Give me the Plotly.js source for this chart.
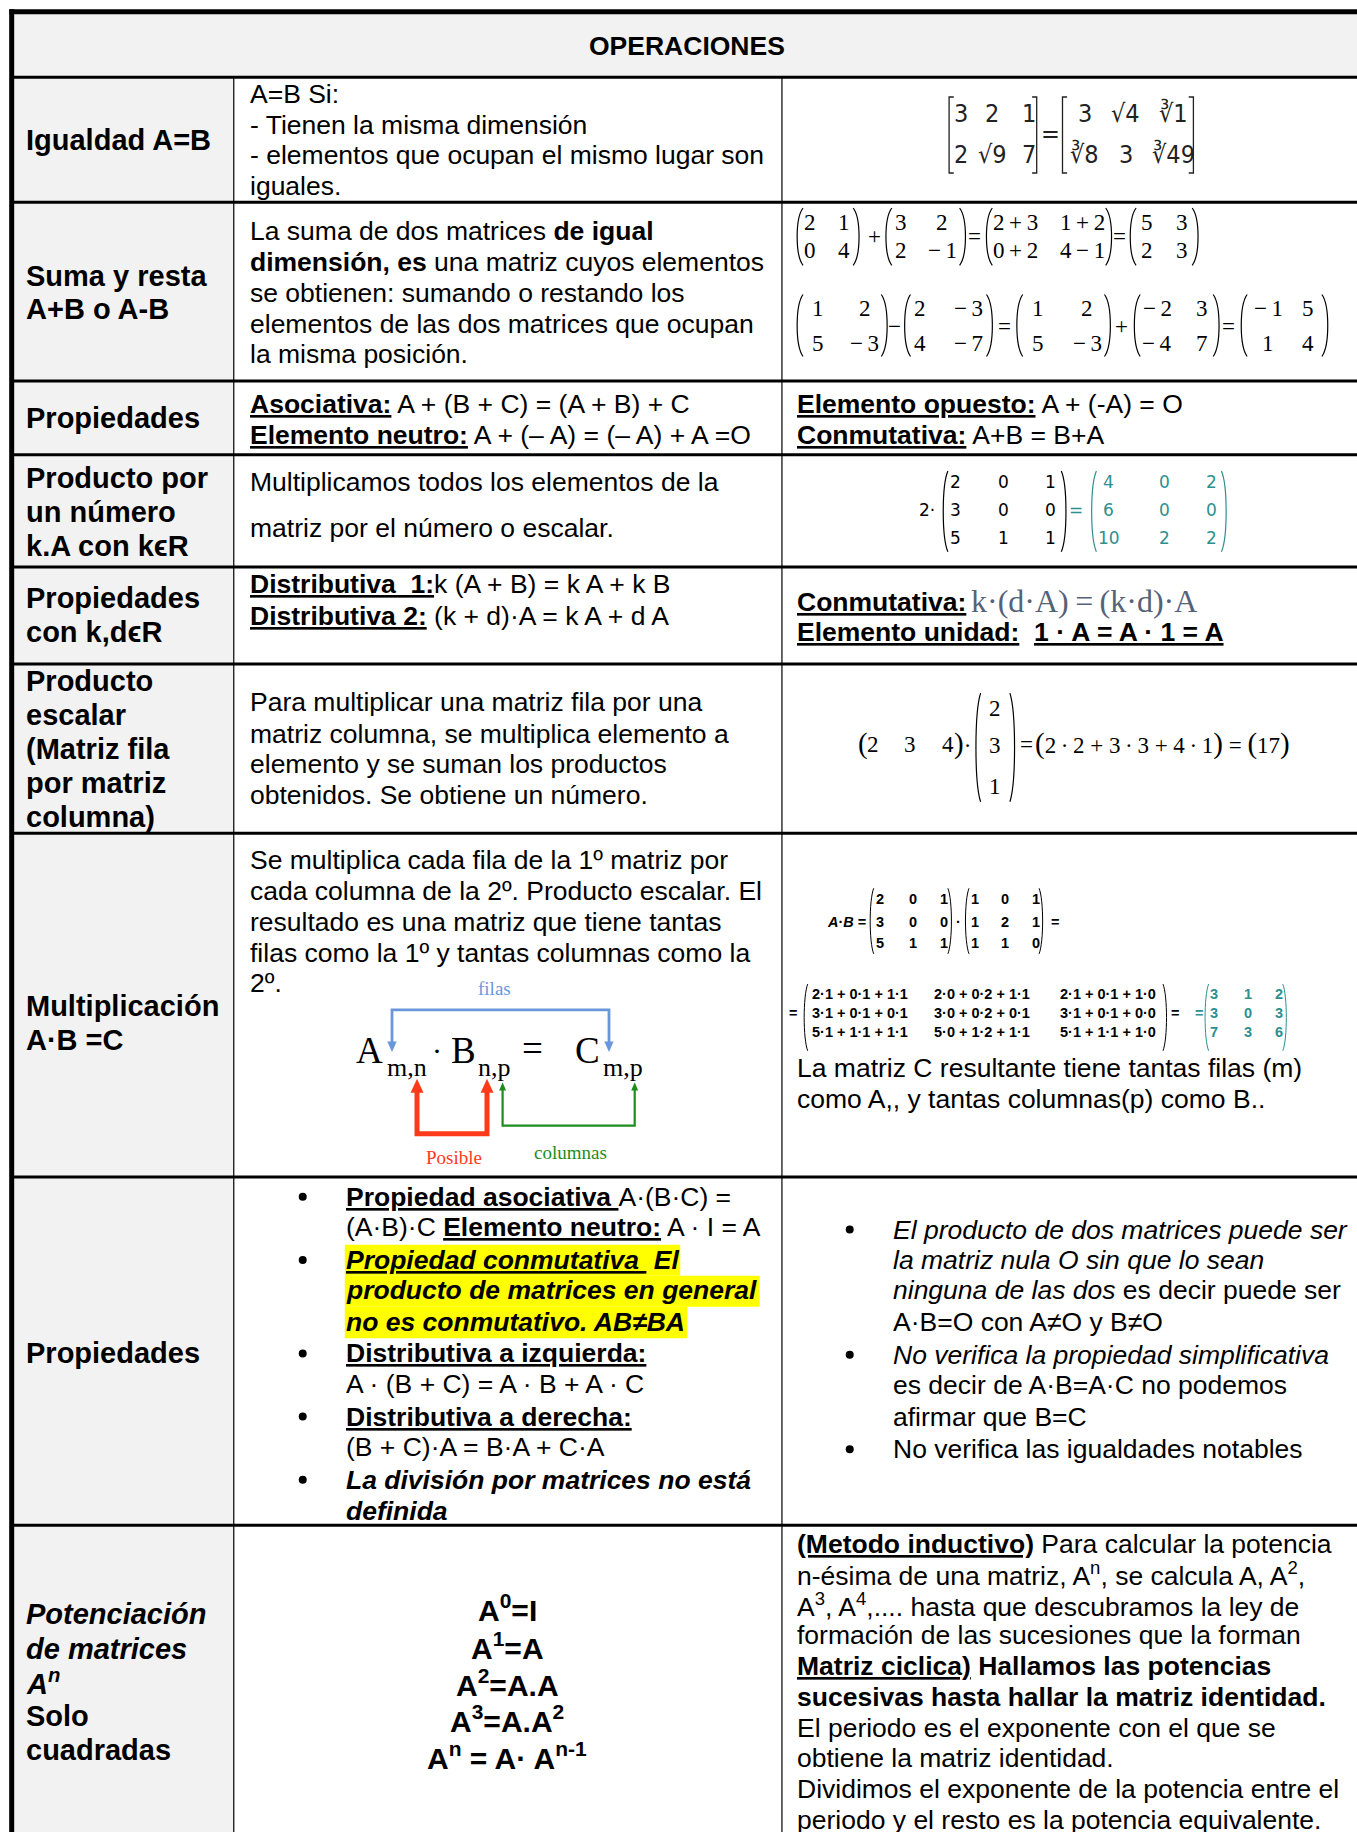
<!DOCTYPE html>
<html><head><meta charset="utf-8">
<script src="https://cdn.plot.ly/plotly-3.0.1.min.js"></script>
<style>html,body{margin:0;padding:0;background:#fff;}#chart{width:1357px;height:1832px;}</style>
</head><body><div id="chart"></div>
<script>
// ---------------- DATA ----------------
const header = "OPERACIONES";
const rowLabels = [
  ["Igualdad A=B"],
  ["Suma y resta", "A+B o A-B"],
  ["Propiedades"],
  ["Producto por", "un número", "k.A con kϵR"],
  ["Propiedades", "con k,dϵR"],
  ["Producto", "escalar", "(Matriz fila", "por matriz", "columna)"],
  ["Multiplicación", "A·B =C"],
  ["Propiedades"],
  ["<i>Potenciación</i>", "<i>de matrices</i>", "<i>A<sup>n</sup></i>", "Solo", "cuadradas"]
];
const igualdadText = ["A=B Si:", "- Tienen la misma dimensión", "- elementos que ocupan el mismo lugar son", "iguales."];
const igualA = [["3", "2", "1"], ["2", "√9", "7"]];
const igualB = [["3", "√4", "∛1"], ["∛8", "3", "∛49"]];

const sumaText = ["La suma de dos matrices <b>de igual</b>", "<b>dimensión, es</b> una matriz cuyos elementos",
  "se obtienen: sumando o restando los", "elementos de las dos matrices que ocupan", "la misma posición."];
const sumA = [[2, 1], [0, 4]];
const sumB = [[3, 2], [2, -1]];
const sumR = [[5, 3], [2, 3]];
const difA = [[1, 2], [5, -3]];
const difB = [[2, -3], [4, -7]];
const difNegB = [[-2, 3], [-4, 7]];
const difR = [[-1, 5], [1, 4]];

const propSumaL = ["<b><u>Asociativa:</u></b> A + (B + C) = (A + B) + C", "<b><u>Elemento neutro:</u></b> A + (– A) = (– A) + A =O"];
const propSumaR = ["<b><u>Elemento opuesto:</u></b> A + (-A) = O", "<b><u>Conmutativa:</u></b> A+B = B+A"];

const prodNumText = ["Multiplicamos todos los elementos de la", "matriz por el número o escalar."];
const escalarK = 2;
const escM = [[2, 0, 1], [3, 0, 0], [5, 1, 1]];
const escKM = [[4, 0, 2], [6, 0, 0], [10, 2, 2]];

const propKL = ["<b><u>Distributiva\u00a0 1:</u></b>k (A + B) = k A + k B", "<b><u>Distributiva 2:</u></b> (k + d)·A = k A + d A"];
const propKR = ["<b><u>Conmutativa:</u></b>", "<b><u>Elemento unidad:</u></b>\u00a0 <b><u>1 · A = A · 1 = A</u></b>"];
const formulaK = "k·(d·A)\u2009=\u2009(k·d)·A";

const escalarText = ["Para multiplicar una matriz fila por una", "matriz columna, se multiplica elemento a",
  "elemento y se suman los productos", "obtenidos. Se obtiene un número."];
const rowVec = [2, 3, 4];
const colVec = [2, 3, 1];
const dotResult = 17;

const multText = ["Se multiplica cada fila de la 1º matriz por", "cada columna de la 2º. Producto escalar. El",
  "resultado es una matriz que tiene tantas", "filas como la 1º y tantas columnas como la", "2º."];
const prodA = [[2, 0, 1], [3, 0, 0], [5, 1, 1]];
const prodB = [[1, 0, 1], [1, 2, 1], [1, 1, 0]];
const prodC = [[3, 1, 2], [3, 0, 3], [7, 3, 6]];
const multNote = ["La matriz C resultante tiene tantas filas (m)", "como A,, y tantas columnas(p) como B.."];
const diagramWords = ["filas", "Posible", "columnas"];

const propMultL = [
  "<b><u>Propiedad asociativa </u></b>A·(B·C) =",
  "(A·B)·C <b><u>Elemento neutro:</u></b> A · I = A",
  "<b><i><u>Propiedad conmutativa </u> El</i></b>",
  "<b><i>producto de matrices en general</i></b>",
  "<b><i>no es conmutativo. AB≠BA</i></b>",
  "<b><u>Distributiva a izquierda:</u></b>",
  "A · (B + C) = A · B + A · C",
  "<b><u>Distributiva a derecha:</u></b>",
  "(B + C)·A = B·A + C·A",
  "<b><i>La división por matrices no está</i></b>",
  "<b><i>definida</i></b>"
];
const propMultR = [
  "<i>El producto de dos matrices puede ser</i>",
  "<i>la matriz nula O sin que lo sean</i>",
  "<i>ninguna de las dos</i> es decir puede ser",
  "A·B=O con A≠O y B≠O",
  "<i>No verifica la propiedad simplificativa</i>",
  "es decir de A·B=A·C no podemos",
  "afirmar que B=C",
  "No verifica las igualdades notables"
];
const potencias = ["A<sup>0</sup>=I", "A<sup>1</sup>=A", "A<sup>2</sup>=A.A", "A<sup>3</sup>=A.A<sup>2</sup>", "A<sup>n</sup> = A· A<sup>n-1</sup>"];
const potText = [
  "<b><u>(Metodo inductivo)</u></b> Para calcular la potencia",
  "n-ésima de una matriz, A<sup>n</sup>, se calcula A, A<sup>2</sup>,",
  "A<sup>3</sup>, A<sup>4</sup>,.... hasta que descubramos la ley de",
  "formación de las sucesiones que la forman",
  "<b><u>Matriz ciclica)</u> Hallamos las potencias</b>",
  "<b>sucesivas hasta hallar la matriz identidad.</b>",
  "El periodo es el exponente con el que se",
  "obtiene la matriz identidad.",
  "Dividimos el exponente de la potencia entre el",
  "periodo y el resto es la potencia equivalente."
];

// ---------------- LAYOUT HELPERS ----------------
const K = 1357 / 1161;
const ann = [], shp = [];
const SANS = 'Liberation Sans, Arial, sans-serif';
const SERIF = 'Liberation Serif, Times New Roman, serif';
const NARROW = 'Liberation Sans Narrow, DejaVu Sans Condensed, Liberation Sans, sans-serif';
const DJ = 'DejaVu Sans, sans-serif';
const BODY = 26.5, LAB = 29;
const TEAL = '#2e8f8f';

function fmt(v, sp) { return typeof v === 'number' ? (v < 0 ? '−' + (sp ? '\u2009' : '') + (-v) : String(v)) : v; }
function T(x, y, text, o) {
  o = o || {};
  ann.push({xref: 'x', yref: 'y', x: x * K, y: y * K, text: text, showarrow: false,
    xanchor: o.xa || 'left', yanchor: 'middle', align: o.xa === 'center' ? 'center' : 'left', borderpad: 0,
    font: {family: o.f || SANS, size: o.s || BODY, color: o.c || '#000'}});
}
function lines(x, ys, arr, o) { arr.forEach((t, i) => T(x, ys[i], t, o)); }
function L(x0, y0, x1, y1, w, c) {
  shp.push({type: 'line', xref: 'x', yref: 'y', x0: x0 * K, y0: y0 * K, x1: x1 * K, y1: y1 * K,
    line: {color: c || '#000', width: w}, layer: 'above'});
}
function R(x0, y0, x1, y1, fill) {
  shp.push({type: 'rect', xref: 'x', yref: 'y', x0: x0 * K, y0: y0 * K, x1: x1 * K, y1: y1 * K,
    fillcolor: fill, line: {width: 0}, layer: 'below'});
}
function P(pts, c, w, fill) {
  const d = pts.map((p, i) => (i ? 'L' : 'M') + (p[0] * K).toFixed(1) + ',' + (p[1] * K).toFixed(1)).join(' ') + (fill ? ' Z' : '');
  shp.push({type: 'path', xref: 'x', yref: 'y', path: d, line: {color: c, width: fill ? 0 : w},
    fillcolor: fill ? c : 'rgba(0,0,0,0)', layer: 'above'});
}
function bracket(x, yt, yb, d, side, kind, c, w) {
  const f = v => (v * K).toFixed(1);
  let p;
  if (kind === 'sq') {
    p = `M ${f(x + side * d)},${f(yt)} L ${f(x)},${f(yt)} L ${f(x)},${f(yb)} L ${f(x + side * d)},${f(yb)}`;
  } else {
    const h = yb - yt;
    p = `M ${f(x + side * d)},${f(yt)} C ${f(x - side * d / 3)},${f(yt + h * 0.18)} ${f(x - side * d / 3)},${f(yb - h * 0.18)} ${f(x + side * d)},${f(yb)}`;
  }
  shp.push({type: 'path', xref: 'x', yref: 'y', path: p, line: {color: c || '#000', width: w || 1.2},
    fillcolor: 'rgba(0,0,0,0)', layer: 'above'});
}
function mat(vals, o) {
  vals.forEach((row, i) => row.forEach((v, j) => T(o.cx[j], o.ry[i], fmt(v, o.sp), {xa: o.xa || 'center', f: o.f, s: o.s, c: o.c})));
  bracket(o.L, o.top, o.bot, o.d || 4, 1, o.kind, o.c, o.w);
  bracket(o.R, o.top, o.bot, o.d || 4, -1, o.kind, o.c, o.w);
}
const ext = (a, b) => Object.assign({}, a, b);

// ---------------- GRID ----------------
const RIGHT = 1175, BOTTOM = 1575;
R(10, 10, RIGHT, 66, '#f2f2f2');
R(10, 66, 200, BOTTOM, '#f2f2f2');
// yellow highlight
R(295, 1065, 582, 1091.5, '#ffff00');
R(295, 1091.5, 650, 1118, '#ffff00');
R(295, 1118, 588, 1145, '#ffff00');
[66, 173, 326, 389, 485, 568, 713, 1007, 1305].forEach(y => L(10, y, RIGHT, y, 3));
L(200, 66, 200, BOTTOM, 1.2);
L(669, 66, 669, BOTTOM, 1.2);
L(8, 10, RIGHT, 10, 5);
L(10, 8, 10, BOTTOM, 5);

// ---------------- HEADER & LABELS ----------------
T(588, 39, '<b>' + header + '</b>', {xa: 'center'});
const labelY = [[120], [236, 264], [358], [409, 438, 467], [512, 541], [583, 612, 641, 670, 699], [861, 890], [1158], [1381, 1411, 1439, 1468, 1497]];
rowLabels.forEach((ls, r) => ls.forEach((t, i) => T(21, labelY[r][i], '<b>' + t + '</b>', {s: LAB})));

// ---------------- ROW 1 ----------------
lines(213, [80, 107, 133, 159], igualdadText);
mat(igualA, {cx: [822, 849, 880], ry: [97, 132], L: 812, R: 887, top: 83, bot: 148, d: 4, kind: 'sq', f: NARROW, s: 25, c: '#222', w: 1.3});
T(899, 114, '=', {xa: 'center', f: NARROW, s: 25, c: '#222'});
mat(igualB, {cx: [928, 963, 1004], ry: [97, 132], L: 909, R: 1021, top: 83, bot: 148, d: 4, kind: 'sq', f: NARROW, s: 25, c: '#222', w: 1.3});

// ---------------- ROW 2 ----------------
lines(213, [198, 224, 251, 277, 303], sumaText);
const sumS = sumA.map((r, i) => r.map((a, j) => a + (sumB[i][j] < 0 ? '\u2009−\u2009' + (-sumB[i][j]) : '\u2009+\u2009' + sumB[i][j])));
const SZ2 = 23;
const e1 = {ry: [190, 214], top: 178, bot: 227, f: SERIF, s: SZ2, d: 5, sp: true};
mat(sumA, ext(e1, {L: 682, R: 735, cx: [693, 722]}));
T(748, 202, '+', {xa: 'center', f: SERIF, s: SZ2});
mat(sumB, ext(e1, {L: 758, R: 826, cx: [771, 806]}));
T(833.5, 202, '=', {xa: 'center', f: SERIF, s: SZ2});
mat(sumS, ext(e1, {L: 844, R: 951, cx: [869, 926]}));
T(958, 202, '=', {xa: 'center', f: SERIF, s: SZ2});
mat(sumR, ext(e1, {L: 967, R: 1025, cx: [981, 1011]}));

const e2 = {ry: [264, 293.5], top: 252, bot: 305, f: SERIF, s: SZ2, d: 5, sp: true};
mat(difA, ext(e2, {L: 682, R: 759, cx: [700, 740]}));
T(765, 279, '−', {xa: 'center', f: SERIF, s: SZ2});
mat(difB, ext(e2, {L: 774, R: 849, cx: [787, 829]}));
T(859, 279, '=', {xa: 'center', f: SERIF, s: SZ2});
mat(difA, ext(e2, {L: 870, R: 950, cx: [888, 930]}));
T(959.5, 279, '+', {xa: 'center', f: SERIF, s: SZ2});
mat(difNegB, ext(e2, {L: 970.5, R: 1043, cx: [990, 1028]}));
T(1051, 279, '=', {xa: 'center', f: SERIF, s: SZ2});
mat(difR, ext(e2, {L: 1062, R: 1136, cx: [1085, 1119]}));

// ---------------- ROW 3 ----------------
lines(213, [346, 372], propSumaL);
lines(681, [346, 372], propSumaR);

// ---------------- ROW 4 ----------------
lines(213, [412, 452], prodNumText);
T(801, 436.5, escalarK + '·', {xa: 'right', f: DJ, s: 17});
const e4 = {ry: [412, 436.5, 460.5], top: 403, bot: 472, f: DJ, s: 17, d: 4};
mat(escM, ext(e4, {L: 807, R: 912, cx: [817.5, 858.5, 898.5]}));
T(921, 436.5, '=', {xa: 'center', f: DJ, s: 17, c: TEAL});
mat(escKM, ext(e4, {L: 934, R: 1049, cx: [948.5, 996.5, 1036.5], c: TEAL}));

// ---------------- ROW 5 ----------------
lines(213, [500, 527], propKL);
lines(681, [515, 541], propKR);
T(830, 514, formulaK, {f: SERIF, s: 32, c: '#56627a'});

// ---------------- ROW 6 ----------------
lines(213, [601, 628, 654, 680], escalarText);
const big = t => '<span style="font-size:29px">' + t + '</span>';
T(733, 636, big('('), {f: SERIF, s: 23});
rowVec.forEach((v, i) => T([747.2, 778.6, 811.4][i], 637, String(v), {xa: 'center', f: SERIF, s: 23}));
T(815.5, 636, big(')') + '·', {f: SERIF, s: 23});
mat(colVec.map(v => [v]), {ry: [606, 637.5, 673], cx: [851.3], L: 835, R: 868, top: 593, bot: 686, f: SERIF, s: 23, d: 4});
T(878.4, 637, '=', {xa: 'center', f: SERIF, s: 23});
const dotExpr = rowVec.map((v, i) => v + '\u2009·\u2009' + colVec[i]).join(' + ');
T(885, 636.5, big('(') + dotExpr + big(')') + ' = ' + big('(') + dotResult + big(')'), {f: SERIF, s: 23});

// ---------------- ROW 7 ----------------
lines(213, [736, 762, 789, 815, 841], multText);
// diagram
const BLUE = '#6a97db', RED = '#ff3a1a', GREEN = '#1e8c1e';
P([[335.4, 892], [335.4, 864], [521, 864], [521, 892]], BLUE, 2.8);
P([[331.4, 891], [339.4, 891], [335.4, 900]], BLUE, 0, true);
P([[517, 891], [525, 891], [521, 900]], BLUE, 0, true);
P([[356.8, 933], [356.8, 970], [416.7, 970], [416.7, 933]], RED, 5);
P([[351.3, 935], [362.3, 935], [356.8, 923]], RED, 0, true);
P([[411.2, 935], [422.2, 935], [416.7, 923]], RED, 0, true);
P([[430, 932], [430, 963], [543, 963], [543, 932]], GREEN, 2.2);
P([[427, 933], [433, 933], [430, 926]], GREEN, 0, true);
P([[540, 933], [546, 933], [543, 926]], GREEN, 0, true);
T(423, 846, diagramWords[0], {xa: 'center', f: SERIF, s: 19, c: BLUE});
T(388, 990, diagramWords[1], {xa: 'center', f: SERIF, s: 19, c: RED});
T(488, 986, diagramWords[2], {xa: 'center', f: SERIF, s: 19, c: GREEN});
T(304, 899, 'A', {f: SERIF, s: 37});
T(330, 913, 'm,n', {f: SERIF, s: 26});
T(374, 899, '·', {xa: 'center', f: SERIF, s: 30});
T(385, 899, 'B', {f: SERIF, s: 37});
T(408, 913, 'n,p', {f: SERIF, s: 26});
T(456, 897, '=', {xa: 'center', f: SERIF, s: 37});
T(491, 899, 'C', {f: SERIF, s: 37});
T(515, 913, 'm,p', {f: SERIF, s: 26});
// product matrices
const PS = 14.5;
const e7 = {ry: [769, 789, 807], top: 760, bot: 816, f: SANS, s: PS, d: 3, w: 1};
T(707, 789, '<b><i>A</i>·<i>B</i> =</b>', {f: SANS, s: PS});
mat(prodA.map(r => r.map(v => '<b>' + v + '</b>')), ext(e7, {L: 744.5, R: 814, cx: [753, 781, 808]}));
T(820, 789, '<b>·</b>', {xa: 'center', f: SANS, s: PS});
mat(prodB.map(r => r.map(v => '<b>' + v + '</b>')), ext(e7, {L: 826, R: 892, cx: [834.5, 860, 886]}));
T(903, 789, '<b>=</b>', {xa: 'center', f: SANS, s: PS});
const expanded = prodA.map((r, i) => prodB[0].map((_, j) => '<b>' + r.map((a, k) => a + '·' + prodB[k][j]).join(' + ') + '</b>'));
const e7b = {ry: [850, 866.5, 883], top: 842, bot: 899, f: SANS, s: PS, d: 3, w: 1};
T(678.5, 866.5, '<b>=</b>', {xa: 'center', f: SANS, s: PS});
mat(expanded, ext(e7b, {L: 688, R: 998, cx: [693.5, 798, 905.7], xa: 'left'}));
T(1005.3, 866.5, '<b>=</b>', {xa: 'center', f: SANS, s: PS});
T(1025.5, 866.5, '<b>=</b>', {xa: 'center', f: SANS, s: PS, c: TEAL});
mat(prodC.map(r => r.map(v => '<b>' + v + '</b>')), ext(e7b, {L: 1031, R: 1100.5, cx: [1039, 1067.5, 1094], c: TEAL}));
lines(681, [914, 940], multNote);

// ---------------- ROW 8 ----------------
lines(295, [1024, 1050, 1078, 1104, 1131, 1158, 1184, 1212, 1238, 1266, 1293], propMultL);
lines(763, [1052, 1078, 1104, 1131, 1159, 1185, 1212, 1240], propMultR);
const bulletX = [259, 259, 259, 259, 259, 727, 727, 727];
const bulletY = [1024, 1078, 1158, 1212, 1266, 1052, 1159, 1240];

// ---------------- ROW 9 ----------------
lines(434, [1376, 1408, 1440, 1471, 1502], potencias.map(t => '<b>' + t + '</b>'), {xa: 'center', s: 30});
lines(681, [1321, 1347, 1373, 1399, 1425, 1452, 1478, 1504, 1531, 1557], potText);

// ---------------- PLOT ----------------
const traces = [{
  type: 'scatter', mode: 'markers', x: bulletX.map(v => v * K), y: bulletY.map(v => v * K),
  marker: {size: 8, color: '#000'}, hoverinfo: 'skip', showlegend: false
}];
const layout = {
  width: 1357, height: 1832, margin: {l: 0, r: 0, t: 0, b: 0, pad: 0},
  paper_bgcolor: '#fff', plot_bgcolor: '#fff', showlegend: false,
  xaxis: {range: [0, 1357], visible: false, fixedrange: true},
  yaxis: {range: [1832, 0], visible: false, fixedrange: true},
  shapes: shp, annotations: ann
};
Plotly.newPlot('chart', traces, layout, {displayModeBar: false, staticPlot: true});
</script></body></html>
